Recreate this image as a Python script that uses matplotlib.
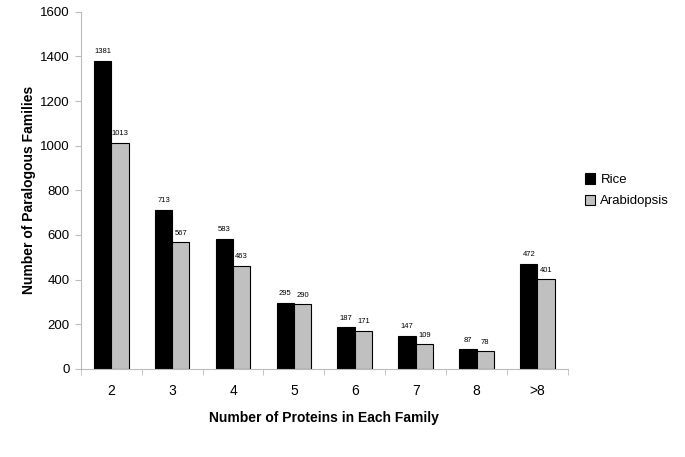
import matplotlib
matplotlib.use("Agg")
import matplotlib.pyplot as plt
import numpy as np

categories = ["2", "3", "4", "5", "6", "7", "8", ">8"]
rice = [1381, 713, 583, 295, 187, 147, 87, 472]
arabidopsis = [1013, 567, 463, 290, 171, 109, 78, 401]
yticks = [0, 200, 400, 600, 800, 1000, 1200, 1400, 1600]

plt.rcParams['font.family'] = ['Liberation Sans', 'DejaVu Sans']

fig = plt.figure(figsize=(6.85, 4.57), dpi=100)
ax = fig.add_axes([0.118, 0.193, 0.711, 0.781])

x = np.arange(len(categories))
w = 0.285
b1 = ax.bar(x - w/2, rice, w, color='black', edgecolor='black', linewidth=0.8, label='Rice')
b2 = ax.bar(x + w/2, arabidopsis, w, color='#c0c0c0', edgecolor='black', linewidth=0.8, label='Arabidopsis')

for rect, v in zip(b1, rice):
    ax.text(rect.get_x() + rect.get_width()/2, v + 25, str(v), ha='center', va='bottom', fontsize=5.5)
for rect, v in zip(b2, arabidopsis):
    ax.text(rect.get_x() + rect.get_width()/2, v + 25, str(v), ha='center', va='bottom', fontsize=5.5)

ax.set_xlim(-0.5, len(categories) - 0.5)
ax.set_ylim(0, 1600)
ax.set_yticks(yticks)
ax.set_yticklabels([str(t) for t in yticks], fontsize=9.5)
ax.set_xticks(x)
ax.set_xticklabels(categories, fontsize=10)
ax.set_xticks(np.arange(len(categories) + 1) - 0.5, minor=True)
ax.tick_params(axis='x', which='major', length=0, pad=11)
ax.tick_params(axis='x', which='minor', length=4, color='#bbbbbb', direction='out')
ax.tick_params(axis='y', length=4, color='#bbbbbb', direction='out', pad=4)

for s in ['top', 'right']:
    ax.spines[s].set_visible(False)
for s in ['left', 'bottom']:
    ax.spines[s].set_color('#bbbbbb')
    ax.spines[s].set_linewidth(0.8)

ax.set_xlabel('Number of Proteins in Each Family', fontsize=10, fontweight='bold', labelpad=9)
ax.set_ylabel('Number of Paralogous Families', fontsize=10, fontweight='bold', labelpad=3)

ax.legend(loc='center left', bbox_to_anchor=(1.01, 0.50), frameon=False, fontsize=9.5,
          handlelength=0.8, handleheight=0.8, handletextpad=0.4, labelspacing=0.65)

fig.savefig('out.png', dpi=100)
